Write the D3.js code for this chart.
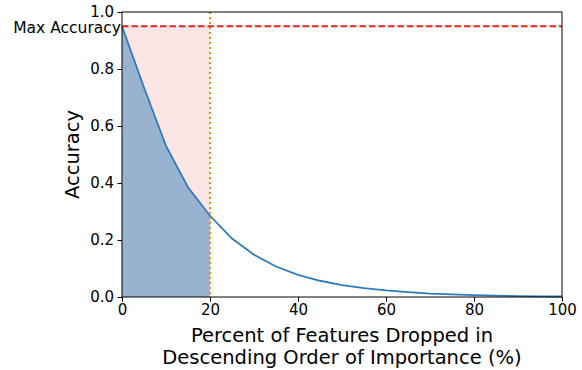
<!DOCTYPE html>
<html>
<head>
<meta charset="utf-8">
<script src="https://cdn.jsdelivr.net/npm/d3@7"></script>
<style>
  body { margin: 0; background: #fff; }
  svg text { font-family: "DejaVu Sans", sans-serif; fill: #000; }
</style>
</head>
<body>
<svg id="chart" width="582" height="370"></svg>
<script>
// data
const pctDropped = [0, 5, 10, 15, 20, 25, 30, 35, 40, 45, 50, 55, 60, 65, 70, 75, 80, 85, 90, 95, 100];
const accuracy = [0.95, 0.735, 0.53, 0.385, 0.285, 0.205, 0.148, 0.107, 0.078, 0.057, 0.042, 0.031,
                  0.023, 0.017, 0.012, 0.009, 0.0065, 0.0047, 0.0034, 0.0025, 0.0018];
const maxAccuracy = 0.95;
const cutoff = 20;
const xTicks = [0, 20, 40, 60, 80, 100];
const yTicks = [0.0, 0.2, 0.4, 0.6, 0.8, 1.0];

const margin = { left: 122, right: 20, top: 12, bottom: 73 };
const width = 582, height = 370;

const svg = d3.select('#chart');

const x = d3.scaleLinear().domain([0, 100]).range([margin.left, width - margin.right]);
const y = d3.scaleLinear().domain([0, 1]).range([height - margin.bottom, margin.top]);

const points = pctDropped.map((p, i) => ({ p, a: accuracy[i] }));
const leftPart = points.filter(d => d.p <= cutoff);

// pink area between max accuracy and curve
svg.append('path')
    .datum(leftPart)
    .attr('fill', '#fbe5e5')
    .attr('d', d3.area().x(d => x(d.p)).y0(y(maxAccuracy)).y1(d => y(d.a)));

// blue area under the curve
svg.append('path')
    .datum(leftPart)
    .attr('fill', '#98b2cf')
    .attr('d', d3.area().x(d => x(d.p)).y0(y(0)).y1(d => y(d.a)));

// curve
svg.append('path')
    .datum(points)
    .attr('fill', 'none')
    .attr('stroke', '#2f7bbd')
    .attr('stroke-width', 1.8)
    .attr('d', d3.line().x(d => x(d.p)).y(d => y(d.a)));

// cutoff line
svg.append('line')
    .attr('x1', x(cutoff)).attr('x2', x(cutoff))
    .attr('y1', y(1)).attr('y2', y(0))
    .attr('stroke', '#ff8c00')
    .attr('stroke-width', 2)
    .attr('stroke-dasharray', '2,3');

// max accuracy line
svg.append('line')
    .attr('x1', x(0)).attr('x2', x(100))
    .attr('y1', y(maxAccuracy)).attr('y2', y(maxAccuracy))
    .attr('stroke', '#e8261f')
    .attr('stroke-width', 1.8)
    .attr('stroke-dasharray', '6.5,3');

// axes
const xAxis = svg.append('g')
    .attr('transform', `translate(0,${y(0)})`)
    .call(d3.axisBottom(x).tickValues(xTicks).tickFormat(d3.format('d')).tickSize(4.5).tickPadding(3));
const yAxis = svg.append('g')
    .attr('transform', `translate(${x(0)},0)`)
    .call(d3.axisLeft(y).tickValues(yTicks).tickFormat(d3.format('.1f')).tickSize(4.5).tickPadding(3.5));

[xAxis, yAxis].forEach(g => {
    g.selectAll('text').attr('font-size', 15).attr('font-family', '"DejaVu Sans", sans-serif').attr('fill', '#000');
    g.selectAll('line').attr('stroke', '#000').attr('stroke-width', 1);
    g.select('.domain').remove();
});

// frame
svg.append('rect')
    .attr('x', x(0)).attr('y', y(1))
    .attr('width', x(100) - x(0)).attr('height', y(0) - y(1))
    .attr('fill', 'none').attr('stroke', '#000').attr('stroke-width', 1);

// max accuracy label
svg.append('text')
    .attr('x', x(0) - 1).attr('y', y(maxAccuracy) + 2)
    .attr('text-anchor', 'end').attr('dominant-baseline', 'central')
    .attr('font-size', 15.5)
    .text('Max Accuracy');

// axis titles
svg.append('text')
    .attr('x', (x(0) + x(100)) / 2).attr('y', 342)
    .attr('text-anchor', 'middle').attr('font-size', 19.5)
    .text('Percent of Features Dropped in');
svg.append('text')
    .attr('x', (x(0) + x(100)) / 2).attr('y', 364)
    .attr('text-anchor', 'middle').attr('font-size', 19.5)
    .text('Descending Order of Importance (%)');

svg.append('text')
    .attr('transform', `translate(79,${(y(0) + y(1)) / 2}) rotate(-90)`)
    .attr('text-anchor', 'middle').attr('font-size', 19.5)
    .text('Accuracy');
</script>
</body>
</html>
